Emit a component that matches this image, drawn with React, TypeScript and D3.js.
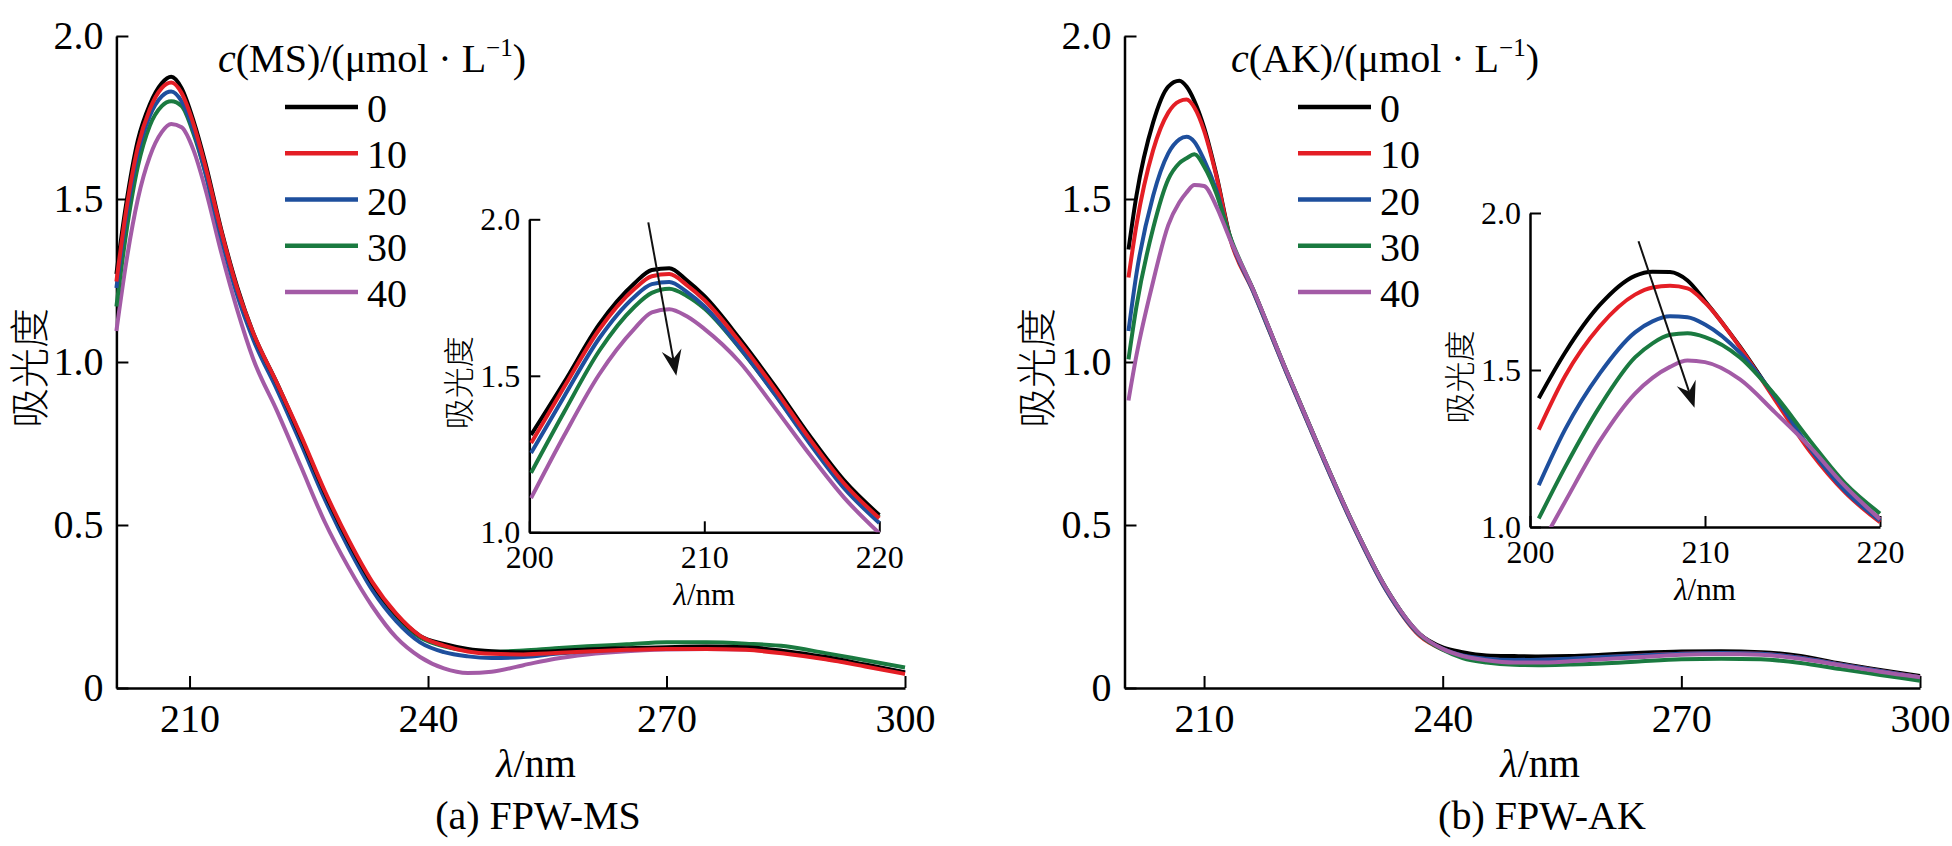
import * as d3 from 'd3';
import { useEffect, useRef } from 'react';

// legend entries, c / (µmol·L⁻¹)
const concentrations = ['0', '10', '20', '30', '40'];
const seriesColors = ['#000000', '#e41e25', '#1e4f9d', '#1a7a40', '#a35ba6'];

// (a) FPW-MS, full spectrum
const msLambda = [200.8, 202, 203.5, 205, 206.5, 207.7, 209, 210.5, 212, 214, 216, 218, 221, 224, 227, 230, 233, 236, 239, 242, 245, 248, 252, 256, 260, 265, 270, 275, 280, 285, 290, 295, 300];
const msAbs0 = [1.27, 1.48, 1.68, 1.79, 1.855, 1.875, 1.84, 1.74, 1.61, 1.405, 1.23, 1.09, 0.935, 0.77, 0.6, 0.45, 0.32, 0.225, 0.16, 0.135, 0.12, 0.113, 0.11, 0.113, 0.118, 0.122, 0.125, 0.127, 0.125, 0.113, 0.095, 0.072, 0.048];
const msAbs10 = [1.247, 1.46, 1.66, 1.775, 1.84, 1.857, 1.825, 1.73, 1.6, 1.4, 1.225, 1.09, 0.935, 0.775, 0.605, 0.455, 0.325, 0.228, 0.16, 0.13, 0.112, 0.105, 0.103, 0.107, 0.112, 0.117, 0.12, 0.12, 0.117, 0.105, 0.088, 0.066, 0.043];
const msAbs20 = [1.227, 1.44, 1.64, 1.755, 1.815, 1.83, 1.8, 1.71, 1.58, 1.38, 1.205, 1.07, 0.915, 0.75, 0.58, 0.43, 0.3, 0.205, 0.14, 0.11, 0.097, 0.092, 0.095, 0.105, 0.113, 0.118, 0.122, 0.124, 0.122, 0.11, 0.092, 0.07, 0.047];
const msAbs30 = [1.17, 1.39, 1.6, 1.725, 1.785, 1.8, 1.785, 1.7, 1.58, 1.385, 1.215, 1.08, 0.925, 0.76, 0.59, 0.44, 0.31, 0.215, 0.155, 0.128, 0.115, 0.111, 0.115, 0.122, 0.128, 0.134, 0.14, 0.14, 0.136, 0.128, 0.107, 0.085, 0.063];
const msAbs40 = [1.095, 1.3, 1.5, 1.63, 1.705, 1.73, 1.72, 1.65, 1.53, 1.335, 1.16, 1.01, 0.85, 0.68, 0.51, 0.37, 0.25, 0.155, 0.095, 0.06, 0.046, 0.05, 0.07, 0.09, 0.103, 0.113, 0.118, 0.12, 0.118, 0.108, 0.09, 0.07, 0.048];

// (a) inset, 200-220 nm
const msInsetLambda = [200.1, 202, 204, 206, 207, 208, 209, 210, 212, 214, 216, 218, 220];
const msInset0 = [1.311, 1.48, 1.665, 1.795, 1.838, 1.844, 1.805, 1.755, 1.62, 1.47, 1.31, 1.165, 1.055];
const msInset10 = [1.285, 1.465, 1.648, 1.777, 1.818, 1.825, 1.79, 1.742, 1.61, 1.46, 1.3, 1.155, 1.045];
const msInset20 = [1.253, 1.435, 1.62, 1.752, 1.793, 1.8, 1.768, 1.722, 1.592, 1.443, 1.285, 1.14, 1.03];
const msInset30 = [1.19, 1.385, 1.58, 1.72, 1.765, 1.778, 1.755, 1.715, 1.59, 1.445, 1.29, 1.155, 1.05];
const msInset40 = [1.109, 1.31, 1.505, 1.65, 1.703, 1.713, 1.69, 1.65, 1.545, 1.4, 1.25, 1.11, 0.997];
const msArrow = [[206.8, 1.99], [208.4, 1.5]];

// (b) FPW-AK, full spectrum
const akLambda = [200.5, 201.5, 203.6, 205.5, 206.9, 207.8, 208.8, 210, 211.5, 213.2, 216.2, 220.4, 224.5, 228.7, 232.9, 237.1, 240, 242.5, 245.5, 249, 252, 256, 260, 265, 270, 275, 280, 285, 290, 295, 300];
const akAbs0 = [1.345, 1.51, 1.735, 1.845, 1.863, 1.845, 1.8, 1.72, 1.58, 1.39, 1.22, 0.97, 0.735, 0.505, 0.305, 0.166, 0.125, 0.11, 0.1, 0.098, 0.097, 0.098, 0.102, 0.108, 0.112, 0.113, 0.11, 0.098, 0.075, 0.055, 0.037];
const akAbs10 = [1.259, 1.42, 1.65, 1.765, 1.8, 1.805, 1.78, 1.71, 1.575, 1.385, 1.215, 0.965, 0.73, 0.5, 0.3, 0.16, 0.118, 0.098, 0.088, 0.085, 0.086, 0.089, 0.094, 0.1, 0.105, 0.107, 0.105, 0.093, 0.072, 0.052, 0.033];
const akAbs20 = [1.095, 1.27, 1.51, 1.64, 1.683, 1.691, 1.675, 1.62, 1.53, 1.385, 1.215, 0.965, 0.73, 0.5, 0.3, 0.163, 0.12, 0.1, 0.09, 0.086, 0.087, 0.09, 0.095, 0.1, 0.105, 0.107, 0.105, 0.093, 0.072, 0.052, 0.033];
const akAbs30 = [1.008, 1.17, 1.41, 1.56, 1.61, 1.625, 1.637, 1.6, 1.52, 1.39, 1.22, 0.97, 0.735, 0.505, 0.305, 0.165, 0.117, 0.092, 0.078, 0.071, 0.07, 0.072, 0.075, 0.082, 0.088, 0.09, 0.088, 0.077, 0.058, 0.04, 0.022];
const akAbs40 = [0.882, 1.02, 1.247, 1.42, 1.49, 1.52, 1.543, 1.54, 1.48, 1.38, 1.22, 0.97, 0.735, 0.505, 0.305, 0.166, 0.12, 0.098, 0.085, 0.078, 0.078, 0.082, 0.088, 0.095, 0.102, 0.104, 0.102, 0.09, 0.07, 0.05, 0.033];

// (b) inset, 200-220 nm
const akInsetLambda = [200.5, 202, 204, 206, 207, 208, 209, 210, 212, 214, 216, 218, 220];
const akInset0 = [1.41, 1.555, 1.708, 1.8, 1.813, 1.812, 1.785, 1.72, 1.574, 1.41, 1.245, 1.115, 1.027];
const akInset10 = [1.31, 1.48, 1.64, 1.74, 1.763, 1.768, 1.76, 1.715, 1.572, 1.405, 1.24, 1.11, 1.015];
const akInset20 = [1.133, 1.31, 1.49, 1.62, 1.655, 1.671, 1.668, 1.645, 1.555, 1.415, 1.25, 1.115, 1.02];
const akInset30 = [1.027, 1.19, 1.385, 1.54, 1.585, 1.612, 1.617, 1.605, 1.54, 1.42, 1.275, 1.14, 1.043];
const akInset40 = [0.93, 1.08, 1.275, 1.425, 1.475, 1.51, 1.53, 1.525, 1.47, 1.365, 1.255, 1.13, 1.025];
const akArrow = [[206.2, 1.91], [209.4, 1.38]];

const mainXTicks = [210, 240, 270, 300];
const mainYTicks = [0, 0.5, 1.0, 1.5, 2.0];
const insetXTicks = [200, 210, 220];
const insetYTicks = [1.0, 1.5, 2.0];

const serif = "'Liberation Serif', 'Times New Roman', serif";
const cjk = "'Noto Sans CJK SC', sans-serif";
const W = 1952;
const H = 846;

type Sel = d3.Selection<SVGGElement, unknown, null, undefined>;

function series(lambda: number[], values: number[][]) {
  return values.map(vals => vals.map((v, i) => [lambda[i], v] as [number, number]));
}

const panels = [
  {
    id: 'a',
    solute: 'MS',
    caption: '(a) FPW-MS',
    left: 116.4, right: 905, xDomain: [200.8, 300],
    legendX: 218, yLabelX: 27, xLabelX: 536,
    main: series(msLambda, [msAbs0, msAbs10, msAbs20, msAbs30, msAbs40]),
    order: [4, 3, 2, 0, 1],
    inset: { left: 529.3, right: 879.3, top: 219.3, bottom: 532.3 },
    insetData: series(msInsetLambda, [msInset0, msInset10, msInset20, msInset30, msInset40]),
    arrow: msArrow,
  },
  {
    id: 'b',
    solute: 'AK',
    caption: '(b) FPW-AK',
    left: 1124.5, right: 1920, xDomain: [200, 300],
    legendX: 1231, yLabelX: 1034, xLabelX: 1540,
    main: series(akLambda, [akAbs0, akAbs10, akAbs20, akAbs30, akAbs40]),
    order: [0, 1, 2, 3, 4],
    inset: { left: 1530, right: 1880, top: 213, bottom: 527 },
    insetData: series(akInsetLambda, [akInset0, akInset10, akInset20, akInset30, akInset40]),
    arrow: akArrow,
  },
];

function drawAxes(
  g: Sel,
  x: d3.ScaleLinear<number, number>,
  y: d3.ScaleLinear<number, number>,
  xTicks: number[],
  yTicks: number[],
  fontSize: number,
  tick: number,
  xPad: number,
  yPad: number,
) {
  const yFmt = (v: d3.NumberValue) => (+v === 0 ? '0' : d3.format('.1f')(+v));
  const style = (s: Sel) => {
    s.attr('font-size', fontSize).attr('font-family', serif);
    s.selectAll('text').attr('font-family', serif);
    s.select('.domain').attr('stroke-width', 2.5);
    s.selectAll('.tick line').attr('stroke-width', 2);
  };

  g.append('g')
    .attr('transform', `translate(0,${y.range()[0]})`)
    .call(d3.axisBottom(x).tickValues(xTicks).tickFormat(d3.format('d')).tickSizeInner(-tick).tickSizeOuter(0).tickPadding(xPad))
    .call(style);

  g.append('g')
    .attr('transform', `translate(${x.range()[0]},0)`)
    .call(d3.axisLeft(y).tickValues(yTicks).tickFormat(yFmt).tickSizeInner(-tick).tickSizeOuter(0).tickPadding(yPad))
    .call(style);
}

function axisTitle(g: Sel, cx: number, baseline: number, fontSize: number) {
  const t = g.append('text')
    .attr('x', cx).attr('y', baseline)
    .attr('text-anchor', 'middle')
    .attr('font-family', serif)
    .attr('font-size', fontSize);
  t.append('tspan').attr('font-style', 'italic').text('λ');
  t.append('tspan').text('/nm');
}

function yTitle(g: Sel, cx: number, cy: number, fontSize: number) {
  g.append('text')
    .attr('transform', `translate(${cx},${cy}) rotate(-90)`)
    .attr('text-anchor', 'middle')
    .attr('dominant-baseline', 'central')
    .attr('font-family', cjk)
    .attr('font-weight', 300)
    .attr('font-size', fontSize)
    .text('吸光度');
}

export default function App() {
  const ref = useRef<SVGSVGElement | null>(null);

  useEffect(() => {
    if (!ref.current) return;
    const svg = d3.select(ref.current);
    svg.selectAll('*').remove();

    svg.append('rect').attr('width', W).attr('height', H).attr('fill', '#fff');

    const yMain = d3.scaleLinear().domain([0, 2]).range([688, 36]);

    panels.forEach(p => {
      const g = svg.append('g') as unknown as Sel;
      const x = d3.scaleLinear().domain(p.xDomain).range([p.left, p.right]);

      const line = d3.line<[number, number]>()
        .x(d => x(d[0]))
        .y(d => yMain(d[1]))
        .curve(d3.curveMonotoneX);

      drawAxes(g, x, yMain, mainXTicks, mainYTicks, 40, 12, 15.6, 13);

      p.order.forEach(i => {
        g.append('path')
          .datum(p.main[i])
          .attr('d', line)
          .attr('fill', 'none')
          .attr('stroke', seriesColors[i])
          .attr('stroke-width', 4)
          .attr('stroke-linejoin', 'round');
      });

      yTitle(g, p.yLabelX, 368, 40);
      axisTitle(g, p.xLabelX, 777, 40);

      g.append('text')
        .attr('x', p.xLabelX + 2).attr('y', 829)
        .attr('text-anchor', 'middle')
        .attr('font-family', serif)
        .attr('font-size', 40)
        .text(p.caption);

      // legend
      const lg = g.append('g').attr('transform', `translate(${p.legendX},0)`);
      const title = lg.append('text')
        .attr('x', 0).attr('y', 72)
        .attr('font-family', serif)
        .attr('font-size', 40);
      title.append('tspan').attr('font-style', 'italic').text('c');
      title.append('tspan').text(`(${p.solute})/(μmol · L`);
      title.append('tspan').attr('font-size', 25).attr('dy', -16).text('−1');
      title.append('tspan').attr('dy', 16).text(')');

      const rowY = d3.scalePoint<string>().domain(concentrations).range([107, 292]);
      concentrations.forEach((c, i) => {
        const yy = rowY(c) ?? 0;
        lg.append('line')
          .attr('x1', 67).attr('x2', 140)
          .attr('y1', yy).attr('y2', yy)
          .attr('stroke', seriesColors[i])
          .attr('stroke-width', 4.5);
        lg.append('text')
          .attr('x', 149).attr('y', yy + 15)
          .attr('font-family', serif)
          .attr('font-size', 40)
          .text(c);
      });

      // inset
      const b = p.inset;
      const xi = d3.scaleLinear().domain([200, 220]).range([b.left, b.right]);
      const yi = d3.scaleLinear().domain([1, 2]).range([b.bottom, b.top]);
      const ig = g.append('g') as unknown as Sel;

      const clipId = `clip-${p.id}`;
      svg.append('clipPath').attr('id', clipId)
        .append('rect')
        .attr('x', b.left).attr('y', b.top - 5)
        .attr('width', b.right - b.left + 3).attr('height', b.bottom - b.top + 5);

      drawAxes(ig, xi, yi, insetXTicks, insetYTicks, 32, 11, 13.3, 9);

      const iline = d3.line<[number, number]>()
        .x(d => xi(d[0]))
        .y(d => yi(d[1]))
        .curve(d3.curveMonotoneX);

      const curves = ig.append('g').attr('clip-path', `url(#${clipId})`);
      p.order.forEach(i => {
        curves.append('path')
          .datum(p.insetData[i])
          .attr('d', iline)
          .attr('fill', 'none')
          .attr('stroke', seriesColors[i])
          .attr('stroke-width', 4)
          .attr('stroke-linejoin', 'round');
      });

      yTitle(ig, b.left - 73, (b.top + b.bottom) / 2 + 7, 31);
      axisTitle(ig, (b.left + b.right) / 2, b.bottom + 73, 31);

      // arrow
      const [x0, y0] = [xi(p.arrow[0][0]), yi(p.arrow[0][1])];
      const [x1, y1] = [xi(p.arrow[1][0]), yi(p.arrow[1][1])];
      const ang = Math.atan2(y1 - y0, x1 - x0);
      const ux = Math.cos(ang), uy = Math.sin(ang);
      const head = 26, half = 10, notch = 17;
      ig.append('line')
        .attr('x1', x0).attr('y1', y0)
        .attr('x2', x1 - ux * notch).attr('y2', y1 - uy * notch)
        .attr('stroke', '#111')
        .attr('stroke-width', 2);
      const pts: [number, number][] = [
        [x1, y1],
        [x1 - ux * head - uy * half, y1 - uy * head + ux * half],
        [x1 - ux * notch, y1 - uy * notch],
        [x1 - ux * head + uy * half, y1 - uy * head - ux * half],
      ];
      ig.append('path')
        .attr('d', `M${pts.map(q => q.join(',')).join('L')}Z`)
        .attr('fill', '#111');
    });
  }, []);

  return (
    <svg
      ref={ref}
      width={W}
      height={H}
      viewBox={`0 0 ${W} ${H}`}
      style={{ position: 'absolute', left: 0, top: 0 }}
    />
  );
}
